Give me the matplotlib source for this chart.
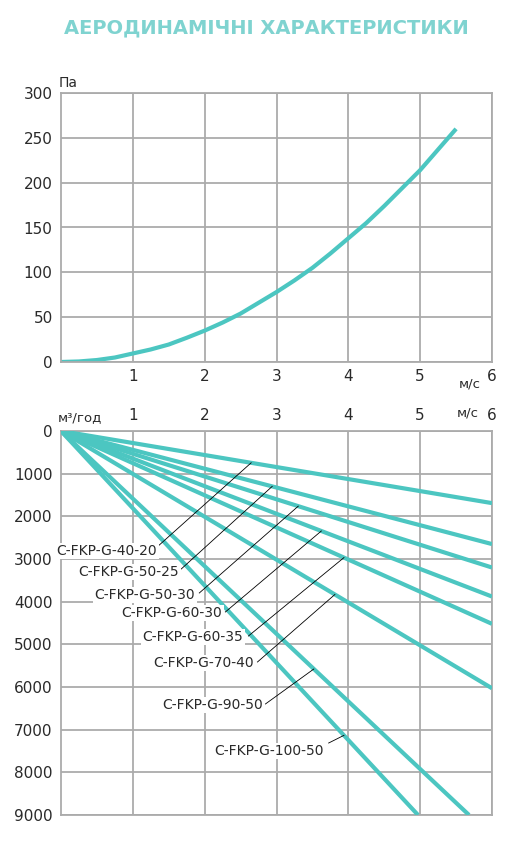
import matplotlib
matplotlib.use("Agg")
import matplotlib.pyplot as plt
import numpy as np

# ---------------- data ----------------
# top chart: pressure drop vs. velocity
velocity = [0, 0.25, 0.5, 0.75, 1.0, 1.25, 1.5, 1.75, 2.0, 2.25, 2.5, 2.75,
            3.0, 3.25, 3.5, 3.75, 4.0, 4.25, 4.5, 4.75, 5.0, 5.25, 5.5]
pressure = [0, 0.6, 2.2, 5, 9.5, 14, 19.5, 27, 35, 44, 54, 66,
            78, 91, 105, 121, 138, 155, 174, 194, 214, 237, 260]

# bottom chart: airflow vs. velocity (straight lines through origin)
models = ["C-FKP-G-40-20", "C-FKP-G-50-25", "C-FKP-G-50-30", "C-FKP-G-60-30",
          "C-FKP-G-60-35", "C-FKP-G-70-40", "C-FKP-G-90-50", "C-FKP-G-100-50"]
end_velocity = [6.0, 6.0, 6.0, 6.0, 6.0, 6.0, 5.68, 4.97]
end_flow = [1690, 2650, 3200, 3880, 4520, 6030, 9000, 9000]

top_xticks = [1, 2, 3, 4, 5, 6]
top_yticks = [0, 50, 100, 150, 200, 250, 300]
bot_xticks = [1, 2, 3, 4, 5, 6]
bot_yticks = [0, 1000, 2000, 3000, 4000, 5000, 6000, 7000, 8000, 9000]

title = "АЕРОДИНАМІЧНІ ХАРАКТЕРИСТИКИ"

# ---------------- style ----------------
W, H = 512, 848
LINE_C = "#4cc6c1"
TITLE_C = "#7fd3d0"
GRID_C = "#ababab"
TEXT_C = "#2a2a2a"
FONT = "DejaVu Sans"
plt.rcParams["font.family"] = [FONT]

fig = plt.figure(figsize=(W / 100, H / 100), dpi=100)


def fx(px):
    return px / W


def fy(py):
    return 1 - py / H


def style_axes(ax):
    for s in ax.spines.values():
        s.set_color(GRID_C)
        s.set_linewidth(1.3)
    ax.grid(True, color=GRID_C, linewidth=1.3)
    ax.set_axisbelow(True)
    ax.tick_params(length=0, colors=TEXT_C, labelsize=11)


# ---- top chart ----
ax1 = fig.add_axes([fx(61), fy(362), fx(492) - fx(61), fy(93) - fy(362)])
style_axes(ax1)
ax1.set_xlim(0, 6)
ax1.set_ylim(0, 300)
ax1.set_xticks(top_xticks)
ax1.set_yticks(top_yticks)
ax1.tick_params(axis="x", pad=5)
ax1.tick_params(axis="y", pad=6)
ax1.plot(velocity, pressure, color=LINE_C, linewidth=3.0,
         solid_capstyle="butt", solid_joinstyle="round")
fig.text(fx(59), fy(83), "Па", fontsize=10, color=TEXT_C, ha="left", va="center")
fig.text(fx(470), fy(384), "м/с", fontsize=9.5, color=TEXT_C, ha="center", va="center")

# ---- bottom chart ----
ax2 = fig.add_axes([fx(61), fy(815), fx(492) - fx(61), fy(431) - fy(815)])
style_axes(ax2)
ax2.set_xlim(0, 6)
ax2.set_ylim(9000, 0)
ax2.set_xticks(bot_xticks)
ax2.set_yticks(bot_yticks)
ax2.xaxis.tick_top()
ax2.tick_params(axis="x", pad=6)
ax2.tick_params(axis="y", pad=6)

for v_end, q_end in zip(end_velocity, end_flow):
    ax2.plot([0, v_end], [0, q_end], color=LINE_C, linewidth=3.0,
             solid_capstyle="butt", zorder=3)

# label positions (text right edge, centre) and leader start, plus anchor velocity
label_text_pos = [(1.34, 2813), (1.647, 3305), (1.87, 3844), (2.246, 4266),
                  (2.539, 4828), (2.679, 5438), (2.818, 6422), (3.656, 7500)]
leader_start = [(1.353, 2695), (1.674, 3234), (1.925, 3797), (2.288, 4242),
                (2.609, 4805), (2.735, 5414), (2.846, 6398), (3.726, 7313)]
anchor_v = [2.647, 2.94, 3.303, 3.624, 3.939, 3.813, 3.52, 3.939]

for name, v_end, q_end, tp, ls, av in zip(models, end_velocity, end_flow,
                                          label_text_pos, leader_start, anchor_v):
    slope = q_end / v_end
    ax2.plot([ls[0], av], [ls[1], slope * av], color="black", linewidth=0.6, zorder=4)
    ax2.text(tp[0], tp[1], name, fontsize=10, color=TEXT_C, ha="right", va="center",
             zorder=5,
             bbox=dict(boxstyle="square,pad=0.1", facecolor="white", edgecolor="none"))

fig.text(fx(58), fy(418), "м³/год", fontsize=9.5, color=TEXT_C, ha="left", va="center")
fig.text(fx(468), fy(413), "м/с", fontsize=9.5, color=TEXT_C, ha="center", va="center")

# ---- title ----
fig.text(fx(266.5), fy(28), title, fontsize=14, fontweight="bold", color=TITLE_C,
         ha="center", va="center")

fig.savefig("out.png", dpi=100, facecolor="white")
